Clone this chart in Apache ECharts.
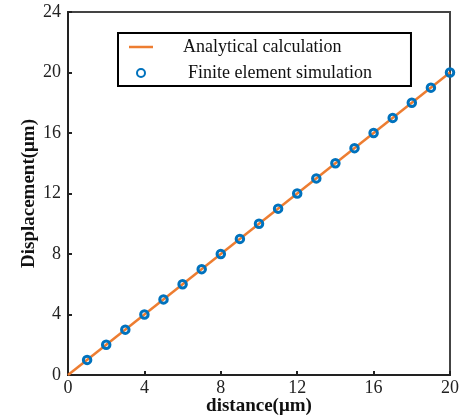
<!DOCTYPE html>
<html>
<head>
<meta charset="utf-8">
<script src="https://cdn.jsdelivr.net/npm/echarts@6/dist/echarts.min.js"></script>
<style>
  html, body { margin: 0; padding: 0; background: #fff; }
  #chart { width: 463px; height: 419px; }
</style>
</head>
<body>
<div id="chart"></div>
<script>
// analytical line (end points)
const lineX = [0, 20]
const lineY = [0, 20]
// finite element points
const femX = [1, 2, 3, 4, 5, 6, 7, 8, 9, 10, 11, 12, 13, 14, 15, 16, 17, 18, 19, 20]
const femY = [1, 2, 3, 4, 5, 6, 7, 8, 9, 10, 11, 12, 13, 14, 15, 16, 17, 18, 19, 20]
const xTicks = { min: 0, max: 20, step: 4 }
const yTicks = { min: 0, max: 24, step: 4 }

const font = 'Liberation Serif'
const orange = '#ED7D31'
const blue = '#0072BD'
const chart = echarts.init(document.getElementById('chart'))

const option = {
  animation: false,
  grid: {
    left: 68, right: 13, top: 12, bottom: 44,
    outerBoundsMode: 'none',
    containLabel: false,
    show: true, borderColor: '#444', borderWidth: 2, backgroundColor: '#fff'
  },
  legend: {
    orient: 'vertical',
    left: 118, top: 33,
    padding: [4, 39, 3, 11],
    itemGap: 6,
    itemWidth: 24,
    itemHeight: 8,
    borderColor: '#000',
    borderWidth: 2,
    backgroundColor: '#fff',
    textStyle: { fontFamily: font, fontSize: 18, lineHeight: 20, color: '#111' },
    data: [
      {
        name: 'Analytical calculation',
        icon: 'path://M0,0L24,0L24,2.5L0,2.5Z',
        textStyle: { padding: [0, 0, 0, 25] }
      },
      {
        name: 'Finite element simulation',
        textStyle: { padding: [0, 0, 0, 30] }
      }
    ]
  },
  xAxis: {
    type: 'value',
    min: xTicks.min, max: xTicks.max, interval: xTicks.step,
    name: 'distance(μm)',
    nameLocation: 'middle',
    nameGap: 22,
    nameMoveOverlap: false,
    nameTextStyle: { fontFamily: font, fontSize: 19, fontWeight: 'bold', color: '#111' },
    axisLine: { lineStyle: { color: '#222', width: 2 } },
    axisTick: { inside: true, length: 4, lineStyle: { color: '#222', width: 2 } },
    axisLabel: { fontFamily: font, fontSize: 18, color: '#222', margin: 4 },
    splitLine: { show: false }
  },
  yAxis: {
    type: 'value',
    min: yTicks.min, max: yTicks.max, interval: yTicks.step,
    name: 'Displacement(μm)',
    nameLocation: 'middle',
    nameGap: 29,
    nameMoveOverlap: false,
    nameTextStyle: { fontFamily: font, fontSize: 19, fontWeight: 'bold', color: '#111' },
    axisLine: { lineStyle: { color: '#222', width: 2 } },
    axisTick: { inside: true, length: 4, lineStyle: { color: '#222', width: 2 } },
    axisLabel: { fontFamily: font, fontSize: 18, color: '#222', margin: 7 },
    splitLine: { show: false }
  },
  series: [
    {
      name: 'Analytical calculation',
      type: 'line',
      symbol: 'none',
      data: lineX.map((x, i) => [x, lineY[i]]),
      lineStyle: { color: orange, width: 2.5 },
      itemStyle: { color: orange },
      z: 2
    },
    {
      name: 'Finite element simulation',
      type: 'scatter',
      symbol: 'circle',
      symbolSize: 7.5,
      clip: false,
      data: femX.map((x, i) => [x, femY[i]]),
      itemStyle: { color: 'rgba(0,0,0,0)', borderColor: blue, borderWidth: 3, opacity: 1 },
      z: 3
    }
  ]
}

chart.setOption(option)
</script>
</body>
</html>
